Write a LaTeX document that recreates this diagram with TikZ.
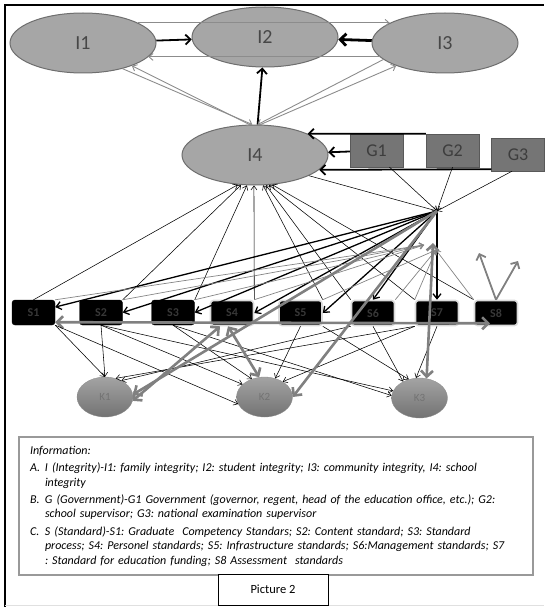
\documentclass[tikz,border=0pt]{standalone}
\usepackage{fontspec}
\setmainfont{Carlito}
\usetikzlibrary{arrows.meta,shapes.geometric}
\tikzset{
  intnode/.style={ellipse, draw=black!57, fill=black!35, line width=1pt, minimum width=146pt, minimum height=60pt, inner sep=0pt, font=\fontsize{20}{20}\selectfont, text=black!72},
  govbox/.style={draw=black!65, fill=black!54, minimum width=53pt, minimum height=33pt, inner sep=0pt, font=\fontsize{18}{18}\selectfont, text=black!76},
  stdbox/.style={draw=black, fill=black, rounded corners=3pt, minimum width=43pt, minimum height=25pt, inner sep=0pt, font=\fontsize{12}{12}\selectfont\bfseries, text=black!78},
  glowbox/.style={stdbox, draw=black!14, line width=1.6pt},
  kellipse/.style={ellipse, top color=black!36, bottom color=black!55, draw=black!45, line width=0.3pt, minimum width=56pt, minimum height=40pt, inner sep=0pt, font=\fontsize{11}{11}\selectfont, text=black!55},
  boldarrow/.style={-{Straight Barb[length=5pt,width=10pt]}, line width=1.8pt},
  heavyarrow/.style={-{Straight Barb[length=6pt,width=12pt]}, line width=2.8pt},
  hubarrow/.style={-{Straight Barb[length=5pt,width=8pt]}, line width=1.3pt},
  thinarrow/.style={-{Straight Barb[length=4pt,width=6pt]}, line width=0.55pt},
  greythin/.style={-{Straight Barb[length=4pt,width=7pt]}, draw=black!45, line width=0.9pt},
  greyline/.style={-{Straight Barb[length=4pt,width=6pt]}, draw=black!48, line width=0.7pt},
  greymid/.style={-{Straight Barb[length=5pt,width=10pt]}, draw=black!50, line width=1.8pt},
  greyfat/.style={-{Straight Barb[length=6pt,width=12pt]}, draw=black!50, line width=2.6pt},
  greyboth/.style={greyfat, {Straight Barb[length=6pt,width=12pt]}-{Straight Barb[length=6pt,width=12pt]}},
  legendbox/.style={draw=black!40, line width=1.6pt, minimum width=514pt, minimum height=138pt, text width=492pt, inner xsep=11pt, align=left, font=\fontsize{12}{14.6}\selectfont\itshape\frenchspacing},
  capbox/.style={draw=black, fill=white, line width=0.6pt, minimum width=110pt, minimum height=31pt, font=\fontsize{12.5}{12.5}\selectfont}
}

\begin{document}
\begin{tikzpicture}[x=1pt,y=-1pt]
\useasboundingbox (0,0) rectangle (544,607);
\draw[line width=2pt] (5,607) -- (5,5) -- (544,5);
\draw[black!12] (5,605) -- (544,605);

% integrity
\node[intnode] (i1) at (83,43) {I1};
\node[intnode] (i2) at (265,37) {I2};
\node[intnode] (i3) at (445,43) {I3};
\node[intnode] (i4) at (255,155) {I4};

% government
\node[govbox] (g1) at (376.5,150.5) {G1};
\node[govbox] (g2) at (452.5,150.5) {G2};
\node[govbox] (g3) at (518,154.5) {G3};

% standards
\node[stdbox] (s1) at (33.5,312.5) {S1};
\node[stdbox] (s2) at (101,312.5) {S2};
\node[stdbox] (s3) at (173,312.5) {S3};
\node[glowbox] (s4) at (232,313) {S4};
\node[glowbox] (s5) at (300.5,313) {S5};
\node[glowbox] (s6) at (373,313) {S6};
\node[glowbox] (s7) at (437,313) {S7};
\node[glowbox] (s8) at (496,313) {S8};

\node[kellipse] (k1) at (105,397) {K1};
\node[kellipse] (k2) at (264.5,397) {K2};
\node[kellipse] (k3) at (419.5,398) {K3};

\coordinate (hub) at (437,211);
\coordinate (hubl) at (424,245);
\coordinate (hubr) at (436,250);
\coordinate (hubk) at (433,243);
\coordinate (v1) at (479,253);
\coordinate (v2) at (518,261);

% top triangle
\draw[greythin] (i1.20) -- (i3.160);
\draw[greythin] (i3.-168) -- (i1.-12);
\draw[boldarrow] (i1) -- (i2);
\draw[heavyarrow] (i3) -- (i2);
\draw[boldarrow] (i4) -- (i2);
\draw[greythin] (i4.100) -- (i1.-25);
\draw[greythin] (i1.-33) -- (i4.95);
\draw[greythin] (i4.80) -- (i3.205);
\draw[greythin] (i3.195) -- (i4.85);

\draw[boldarrow] (g2.north west) -- (i4.22);
\draw[boldarrow] (g1) -- (i4);
\draw[boldarrow] ([yshift=2pt]g3.south west) -- (i4.-13);

\draw[thinarrow] (i4.-21) -- (hub);
\draw[thinarrow] ([xshift=13pt]g1.south) -- (hub);
\draw[thinarrow] (g2.south) -- (hub);
\draw[thinarrow] ([xshift=-6pt]g3.south) -- (hub);

% standards up to I4
\draw[thinarrow] (s1.north) -- (i4.240);
\draw[thinarrow] (s2.north east) -- (i4.245);
\draw[thinarrow] (s3.north east) -- (i4.255);
\draw[thinarrow] (s4.north east) -- (i4.268);
\draw[thinarrow] (s5.north east) -- (i4.285);
\draw[thinarrow] (s6.north west) -- (i4.290);
\draw[thinarrow] (s7.north west) -- (i4.295);
\draw[thinarrow] (s8.north west) -- (i4.300);

\draw[hubarrow] (hub) -- (s1);
\draw[hubarrow] (hub) -- (s2.east);
\draw[hubarrow] (hub) -- (s3.east);
\draw[hubarrow] (hub) -- (s4.east);
\draw[hubarrow] (hub) -- (s5.east);
\draw[hubarrow] (hub) -- (s6.north);
\draw[hubarrow] (hub) -- (s7.north);

\draw[greyline] (s1.north east) -- (hubl);
\draw[greyline] (s2.north east) -- (hubl);
\draw[greyline] (s3.north east) -- (hubl);
\draw[greyline] (s4.north east) -- (hubl);
\draw[greyline] (s5.north east) -- (hubr);
\draw[greyline] (s6.north east) -- (hubr);
\draw[greyline] (s7.north west) -- (hubr);
\draw[greyline] (s8.north west) -- (hubr);

\draw[greymid] (s8.north) -- (v1);
\draw[greymid] (s8.north) -- (v2);
\draw[greyboth] ([yshift=3pt]s1.south east) -- ([xshift=-6pt,yshift=3pt]s8.south);

% standards down to K
\draw[thinarrow] (s1.south east) -- (k1.north);
\draw[thinarrow] (s1.south east) -- (k2.195);
\draw[thinarrow] (s2.south) -- (k1.north);
\draw[thinarrow] (s2.south) -- (k2.150);
\draw[thinarrow] (s2.south) -- (k3.165);
\draw[thinarrow] (s3.south) -- (k2.125);
\draw[thinarrow] (s3.south) -- (k3.175);
\draw[thinarrow] (s5.south) -- (k2.60);
\draw[thinarrow] (s5.south east) -- (k3.120);
\draw[thinarrow] (s6.south west) -- (k1.45);
\draw[thinarrow] (s6.south) -- (k3.135);
\draw[thinarrow] (s7.south west) -- (k1.60);
\draw[thinarrow] (s7.south west) -- (k2.40);
\draw[thinarrow] (s7.south) -- (k3.100);

\draw[greyfat] (hub) -- (k1.5);
\draw[greyboth] ([xshift=-12pt]s4.south) -- (k1.-8);
\draw[greyboth] ([xshift=-4pt]s4.south) -- (k2.105);
\draw[greyfat] (hub) -- (k2.east);
\draw[greyboth] (hubk) -- (k3.70);

% legend
\node[legendbox] (info) at (276,506) {Information:\\[3pt]
\makebox[15pt][l]{A.}I (Integrity)-I1: family integrity; I2: student integrity; I3: community integrity, I4: school\\
\hspace*{15pt}integrity\\[2.5pt]
\makebox[15pt][l]{B.}G (Government)-G1 Government (governor, regent, head of the education office, etc.); G2:\\
\hspace*{15pt}school supervisor; G3: national examination supervisor\\[2.5pt]
\makebox[15pt][l]{C.}S (Standard)-S1: Graduate\ \ Competency Standars; S2: Content standard; S3: Standard\\
\hspace*{15pt}process; S4: Personel standards; S5: Infrastructure standards; S6:Management standards; S7\\
\hspace*{15pt}: Standard for education funding; S8 Assessment\ \ standards};
\node[capbox] (cap) at (273,589.5) {Picture 2};
\end{tikzpicture}
\end{document}
